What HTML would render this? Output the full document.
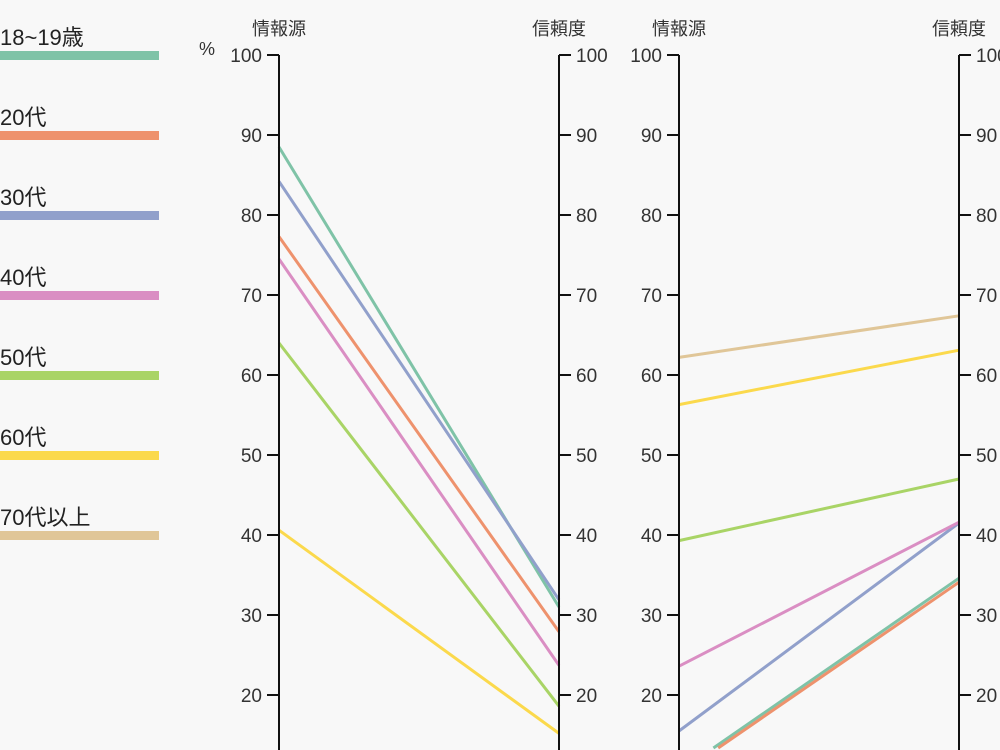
<!DOCTYPE html>
<html><head><meta charset="utf-8"><style>
html,body{margin:0;padding:0;background:#f8f8f8;width:1000px;height:750px;overflow:hidden;}
svg{display:block;font-family:"Liberation Sans","Noto Sans CJK JP",sans-serif;overflow:hidden;}
</style></head><body>
<svg id="c" width="1000" height="750"></svg>
<script>
const groups=["18~19歳","20代","30代","40代","50代","60代","70代以上"];
const colors=["#7fc3a7","#ee926d","#91a0cb","#da8ec3","#a9d466","#fbd94c","#e0c698"];
const p1Source=[88.5,77.3,84.2,74.5,64,40.6,10];
const p1Trust=[31,27.9,31.9,23.7,18.6,15.2,8];
const p2Source=[10.4,10,15.5,23.6,39.3,56.3,62.2];
const p2Trust=[34.6,34.1,41.5,41.6,47,63.1,67.4];
const ticks=[100,90,80,70,60,50,40,30,20];
const axes=[{x:279,t:"情報源",side:"left"},{x:559,t:"信頼度",side:"right"},{x:679,t:"情報源",side:"left"},{x:959,t:"信頼度",side:"right"}];
const svg=document.getElementById('c');
const NS="http://www.w3.org/2000/svg";
const y=v=>55+(100-v)*8;
const YMAX=748;
function el(tag,a,p){const e=document.createElementNS(NS,tag);for(const k in a)e.setAttribute(k,a[k]);(p||svg).appendChild(e);return e;}
groups.forEach((g,i)=>{
 const t=el('text',{x:0,y:45+i*80,'font-size':22,fill:'#222'});t.textContent=g;
 
 
 const r=el('rect',{x:0,y:51+i*80,width:159,height:9,fill:colors[i]});
 
 
});
function drawPanel(a,b,x1,x2,name){
 a.forEach((v,i)=>{
  let ax=x1,ay=y(v),bx=x2,by=y(b[i]);
  if(ay>YMAX&&by>YMAX)return;
  if(ay>YMAX){ax=ax+(bx-ax)*(ay-YMAX)/(ay-by);ay=YMAX;}
  if(by>YMAX){bx=bx+(ax-bx)*(by-YMAX)/(by-ay);by=YMAX;}
  const l=el('line',{x1:ax,y1:ay,x2:bx,y2:by,stroke:colors[i],'stroke-width':3});
  
  
 });
}
drawPanel(p1Source,p1Trust,279,559,'panel1');
drawPanel(p2Source,p2Trust,679,959,'panel2');
axes.forEach((a,j)=>{
 const ln=el('line',{x1:a.x,y1:55,x2:a.x,y2:750,stroke:'#111','stroke-width':2});
 
 
 const tt=el('text',{x:a.x,y:35,'font-size':18,fill:'#333','text-anchor':'middle'});tt.textContent=a.t;
 
 
 ticks.forEach(v=>{
  const dx=a.side==='left'?-12:12;
  el('line',{x1:a.x,y1:y(v),x2:a.x+dx,y2:y(v),stroke:'#111','stroke-width':2});
  const lb=el('text',{x:a.side==='left'?a.x-17:a.x+17,y:y(v)+7,'font-size':19,fill:'#333','text-anchor':a.side==='left'?'end':'start'});
  lb.textContent=v;
  
  
 });
});
const pc=el('text',{x:199,y:55,'font-size':18,fill:'#333'});pc.textContent='%';


</script>
</body></html>
